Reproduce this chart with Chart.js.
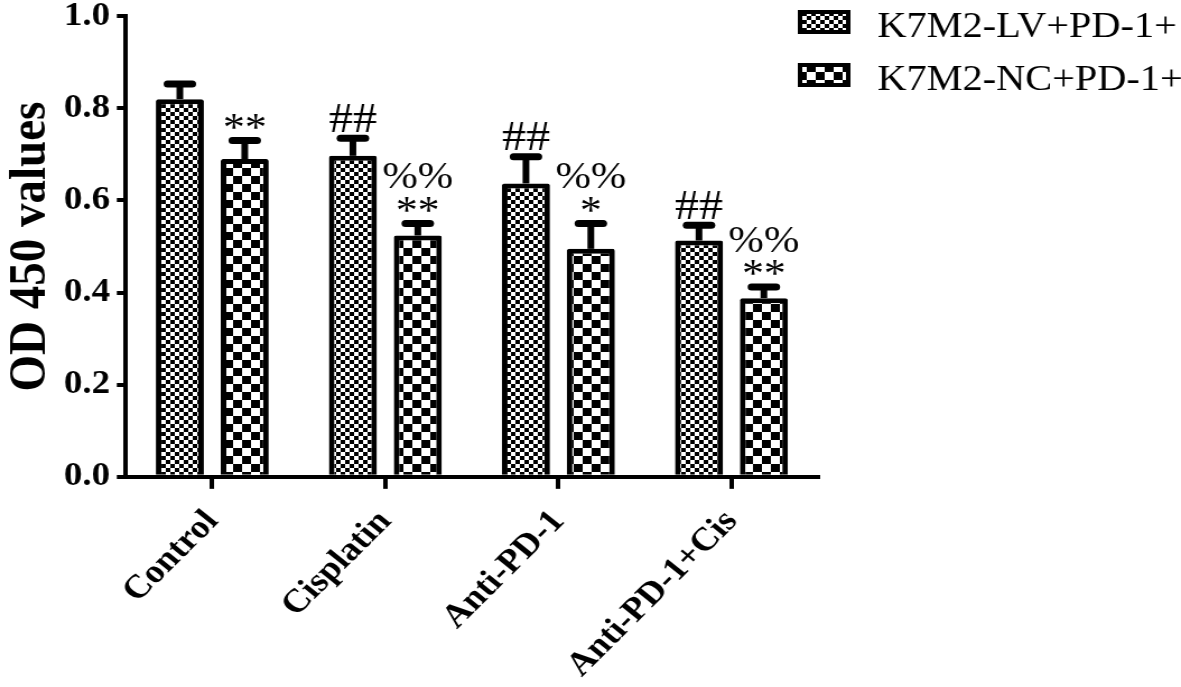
<!DOCTYPE html>
<html>
<head>
<meta charset="utf-8">
<script src="https://cdn.jsdelivr.net/npm/chart.js@4/dist/chart.umd.min.js"></script>
<style>
  body { margin: 0; background: #fff; }
  #wrap { width: 1181px; height: 687px; overflow: hidden; }
</style>
</head>
<body>
<div id="wrap"><canvas id="od" width="1054" height="687" style="width:1181px;height:687px"></canvas></div>
<script>
const groups = ['Control', 'Cisplatin', 'Anti-PD-1', 'Anti-PD-1+Cis'];
const seriesNames = ['K7M2-LV+PD-1+', 'K7M2-NC+PD-1+'];
const lvMeans = [0.82, 0.697, 0.637, 0.513];
const lvErr = [0.033, 0.038, 0.058, 0.033];
const ncMeans = [0.69, 0.524, 0.495, 0.388];
const ncErr = [0.04, 0.026, 0.055, 0.024];
// marks above each bar, read bottom-up
const lvMarks = [[], ['##'], ['##'], ['##']];
const ncMarks = [['**'], ['**', '%%'], ['*', '%%'], ['**', '%%']];
const yTicks = [0, 0.2, 0.4, 0.6, 0.8, 1.0];

const serif = '"Liberation Serif", "Times New Roman", serif';

function checker(size) {
  const c = document.createElement('canvas');
  c.width = size * 2; c.height = size * 2;
  const g = c.getContext('2d');
  g.fillStyle = '#fff'; g.fillRect(0, 0, size * 2, size * 2);
  g.fillStyle = '#000';
  g.fillRect(0, 0, size, size);
  g.fillRect(size, size, size, size);
  return document.getElementById('od').getContext('2d').createPattern(c, 'repeat');
}
const fineFill = checker(4);
const coarseFill = checker(8);

const errorBars = {
  id: 'errorBars',
  afterDatasetsDraw(chart) {
    const ctx = chart.ctx;
    const y = chart.scales.y;
    const errs = [lvErr, ncErr];
    const marks = [lvMarks, ncMarks];
    ctx.save();
    ctx.strokeStyle = '#000';
    ctx.fillStyle = '#000';
    chart.data.datasets.forEach((ds, di) => {
      chart.getDatasetMeta(di).data.forEach((bar, i) => {
        const top = y.getPixelForValue(ds.data[i]);
        const tip = y.getPixelForValue(ds.data[i] + errs[di][i]);
        ctx.lineCap = 'butt';
        ctx.lineWidth = 6;
        ctx.beginPath(); ctx.moveTo(bar.x, top); ctx.lineTo(bar.x, tip); ctx.stroke();
        ctx.lineCap = 'round';
        ctx.lineWidth = 7;
        ctx.beginPath(); ctx.moveTo(bar.x - 11, tip); ctx.lineTo(bar.x + 11, tip); ctx.stroke();
        ctx.textAlign = 'center';
        ctx.textBaseline = 'alphabetic';
        let bottom = tip - 3.5;
        marks[di][i].forEach(m => {
          if (m.indexOf('*') >= 0) {
            const fs = 39;
            ctx.font = fs + 'px ' + serif;
            bottom -= 7;
            ctx.fillText(m, bar.x, bottom + 0.25 * fs);
            bottom -= 0.43 * fs;
          } else if (m.indexOf('%') >= 0) {
            ctx.font = '38px ' + serif;
            bottom -= 8;
            ctx.fillText(m, bar.x, bottom);
          } else {
            ctx.font = '43px ' + serif;
            bottom -= 3;
            ctx.fillText(m, bar.x, bottom);
          }
        });
      });
    });
    ctx.restore();
  }
};

const legendBoxes = {
  id: 'legendBoxes',
  afterDraw(chart) {
    const ctx = chart.ctx;
    const fills = [fineFill, coarseFill];
    ctx.save();
    seriesNames.forEach((name, i) => {
      const top = 12 + i * 53;
      ctx.fillStyle = fills[i];
      ctx.fillRect(714, top, 43, 20);
      ctx.strokeStyle = '#000';
      ctx.lineWidth = 4;
      ctx.strokeRect(714, top, 43, 20);
      ctx.fillStyle = '#000';
      ctx.font = '36px ' + serif;
      ctx.textAlign = 'left';
      ctx.textBaseline = 'alphabetic';
      ctx.fillText(name, 783, top + 25);
    });
    ctx.restore();
  }
};

new Chart(document.getElementById('od'), {
  type: 'bar',
  data: {
    labels: groups,
    datasets: [
      { label: seriesNames[0], data: lvMeans, backgroundColor: fineFill,
        borderColor: '#000', borderWidth: 5, borderRadius: 2 },
      { label: seriesNames[1], data: ncMeans, backgroundColor: coarseFill,
        borderColor: '#000', borderWidth: 5, borderRadius: 2 }
    ]
  },
  options: {
    responsive: false,
    animation: false,
    categoryPercentage: 0.75,
    barPercentage: 0.74,
    layout: { padding: { top: 0, right: 324, left: 4, bottom: -12 } },
    plugins: { legend: { display: false }, tooltip: { enabled: false } },
    scales: {
      x: {
        grid: { display: true, drawOnChartArea: false, offset: false, tickLength: 12, lineWidth: 4, color: '#000' },
        border: { display: true, width: 4, color: '#000' },
        ticks: { color: '#000', minRotation: 48, maxRotation: 48, padding: 14,
          font: { family: serif, size: 33, weight: 'bold' } }
      },
      y: {
        min: 0, max: 1.0,
        afterBuildTicks(axis) { axis.ticks = yTicks.map(v => ({ value: v })); },
        grid: { display: true, drawOnChartArea: false, tickLength: 8, lineWidth: 4, color: '#000' },
        border: { display: true, width: 4, color: '#000' },
        ticks: { color: '#000', padding: 6,
          callback: v => v.toFixed(1),
          font: { family: serif, size: 33, weight: 'bold', lineHeight: 0.62 } },
        title: { display: true, text: 'OD 450 values', color: '#000', padding: 0,
          font: { family: serif, size: 47, weight: 'bold', lineHeight: 1.0 } }
      }
    }
  },
  plugins: [errorBars, legendBoxes]
});
</script>
</body>
</html>
